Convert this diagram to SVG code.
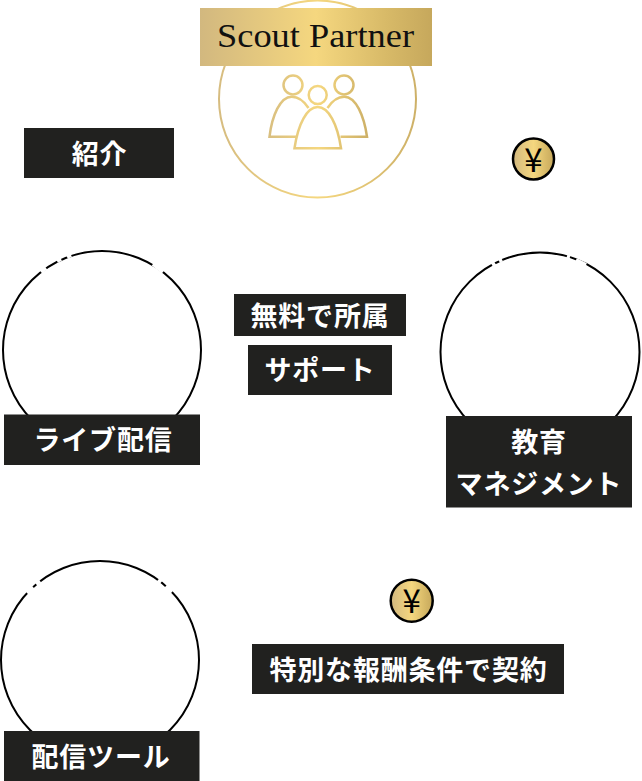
<svg xmlns="http://www.w3.org/2000/svg" width="642" height="781" viewBox="0 0 642 781">
<style>
.lab{fill:#21211f}
.t{font-family:"Noto Sans CJK JP","Noto Sans",sans-serif;font-weight:700;font-size:27px;fill:#fff;text-anchor:middle;letter-spacing:.8px}
.ring{fill:none;stroke:#000;stroke-width:2}
.gap{fill:none;stroke:#fff;stroke-width:4}
.yen{font-family:"Noto Sans CJK JP",sans-serif;font-size:33px;fill:#000;text-anchor:middle}
.coin{stroke:#000;stroke-width:2.500}
</style>
<defs>
<linearGradient id="g0" x1="0" y1="0" x2="1" y2="0"><stop offset="0" stop-color="#d2b87f"/><stop offset=".5" stop-color="#f5d77f"/><stop offset=".8" stop-color="#d8ba68"/><stop offset="1" stop-color="#c6a85c"/></linearGradient>
<linearGradient id="g1" gradientUnits="userSpaceOnUse" x1="218" y1="0" x2="417" y2="0"><stop offset="0" stop-color="#d6bc80"/><stop offset=".5" stop-color="#f5d77f"/><stop offset="1" stop-color="#cdb067"/></linearGradient>
<linearGradient id="g2" gradientUnits="userSpaceOnUse" x1="269" y1="0" x2="368" y2="0"><stop offset="0" stop-color="#d9bf80"/><stop offset=".5" stop-color="#f5d77f"/><stop offset="1" stop-color="#cdb067"/></linearGradient>
</defs>
<rect width="642" height="781" fill="#fff"/>
<g id="connectors"/>
<g id="scout-partner">
<circle cx="317.500" cy="99" r="98.500" fill="#fff" stroke="url(#g1)" stroke-width="2"/>
<rect x="200" y="8" width="232" height="58" fill="url(#g0)"/>
<text x="217" y="47" font-family="'Liberation Serif',serif" font-size="33" textLength="197" lengthAdjust="spacingAndGlyphs" fill="#111">Scout Partner</text>
<g fill="none" stroke="url(#g2)" stroke-width="2.500">
<circle cx="293" cy="85" r="9.500"/><circle cx="344" cy="85" r="9.500"/><circle cx="317.700" cy="95" r="9"/>
<path d="M308.500 108C304 101 298.500 96.700 291.700 96.700C280 96.700 272 116 269.500 136.700H296.500"/>
<path d="M327.500 108C332 101 337.500 96.700 344.300 96.700C356 96.700 364 116 367 136.700H340.500"/>
<path d="M294.500 148.300C298 124 307 107 317.700 107C328.500 107 337.500 124 341 148.300Z"/>
</g>
</g>
<g id="shokai"><rect class="lab" x="24" y="128" width="150" height="50"/><text class="t" x="99.500" y="164">紹介</text></g>
<g id="yen-1"><circle class="coin" cx="533.500" cy="159" r="20.500" fill="url(#g0)"/><text class="yen" x="533.500" y="171.500">¥</text></g>
<g id="live">
<circle class="ring" cx="102" cy="350" r="99"/>
<path class="gap" d="M41 272L46 268M57 261L61 259M67 257L71 255M153 264L163 272"/>
<rect class="lab" x="4" y="414.500" width="196" height="50.500"/><text class="t" x="103" y="450">ライブ配信</text>
</g>
<g id="free"><rect class="lab" x="234" y="294" width="172" height="42"/><text class="t" x="320" y="326">無料で所属</text></g>
<g id="support"><rect class="lab" x="248" y="345" width="144" height="50"/><text class="t" x="320" y="380">サポート</text></g>
<g id="education">
<circle class="ring" cx="540" cy="352" r="99.500"/>
<path class="gap" d="M492 265L495 263M499 261L502 259.500M567 256L570 257M576 260L586 265"/>
<rect class="lab" x="446" y="416" width="186" height="91.500"/>
<text class="t" x="539" y="452">教育</text><text class="t" x="539" y="494">マネジメント</text>
</g>
<g id="tool">
<circle class="ring" cx="100" cy="660" r="99"/>
<path class="gap" d="M27 593L33 587M36 584L40 581M158 580L161 582.500M166 586L172 592"/>
<rect class="lab" x="4" y="731" width="195.500" height="50"/><text class="t" x="101" y="767">配信ツール</text>
</g>
<g id="yen-2"><circle class="coin" cx="411.700" cy="600.700" r="21" fill="url(#g0)"/><text class="yen" x="411.700" y="613">¥</text></g>
<g id="contract"><rect class="lab" x="252" y="644" width="312" height="50"/><text class="t" x="408.500" y="680">特別な報酬条件で契約</text></g>
</svg>
